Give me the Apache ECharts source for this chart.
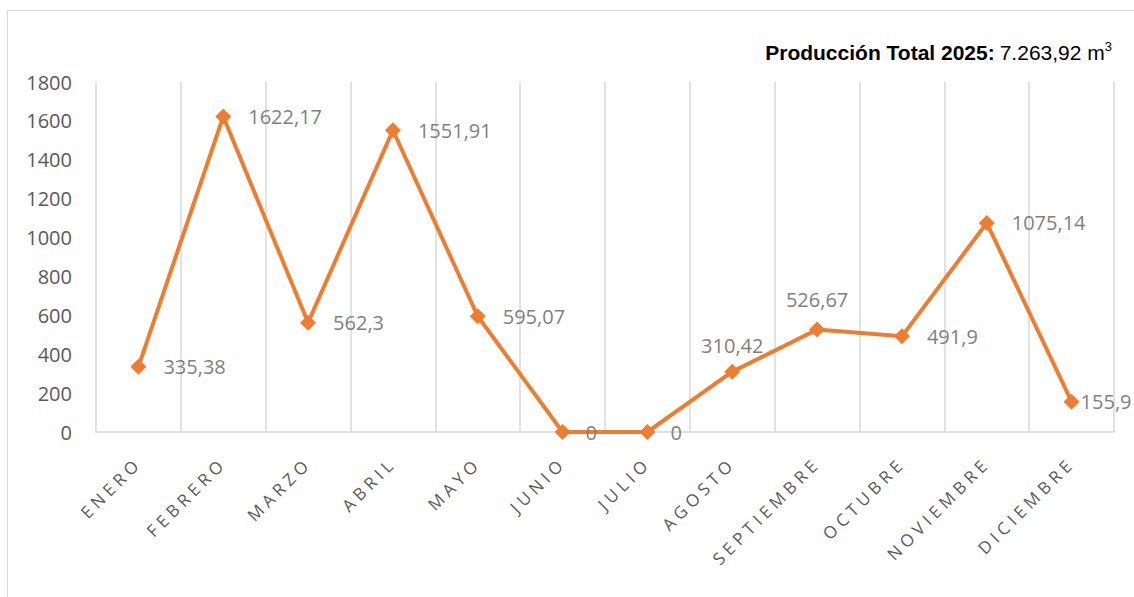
<!DOCTYPE html>
<html>
<head>
<meta charset="utf-8">
<script src="https://cdn.jsdelivr.net/npm/echarts@6/dist/echarts.min.js"></script>
<style>
  html, body { margin: 0; padding: 0; background: #fff; }
  #chart { width: 1134px; height: 597px; }
</style>
</head>
<body>
<div id="chart"></div>
<script>
// meses y producción (m3)
var months = ['ENERO', 'FEBRERO', 'MARZO', 'ABRIL', 'MAYO', 'JUNIO', 'JULIO',
              'AGOSTO', 'SEPTIEMBRE', 'OCTUBRE', 'NOVIEMBRE', 'DICIEMBRE'];
var production = [335.38, 1622.17, 562.3, 1551.91, 595.07, 0, 0,
                  310.42, 526.67, 491.9, 1075.14, 155.9];
var totalText = '7.263,92';

// etiquetas encima para agosto y septiembre, las demás a la derecha
var labelTop = { 7: 8, 8: 12 };
var labelRight = { 5: 15, 6: 15, 11: 1 };

var seriesData = [];
for (var i = 0; i < production.length; i++) {
    var item = { value: production[i] };
    if (labelTop[i] !== undefined) {
        item.label = { position: 'top', distance: labelTop[i] };
    } else if (labelRight[i] !== undefined) {
        item.label = { position: 'right', distance: labelRight[i] };
    }
    seriesData.push(item);
}

var chart = echarts.init(document.getElementById('chart'), null, { renderer: 'svg' });

var option = {
    backgroundColor: '#fff',
    animation: false,
    graphic: [{
        type: 'rect',
        shape: { x: 7.5, y: 10.5, width: 1140, height: 600 },
        style: { fill: 'none', stroke: '#d9d9d9', lineWidth: 1 },
        silent: true
    }],
    title: {
        right: 17,
        top: 35,
        text: '{b|Producción Total 2025:} {n|' + totalText + ' m}{s|3}',
        textStyle: {
            fontWeight: 'normal',
            rich: {
                b: { fontFamily: 'Liberation Sans', fontWeight: 'bold', fontSize: 21, color: '#000' },
                n: { fontFamily: 'Liberation Sans', fontWeight: 'normal', fontSize: 21, color: '#000' },
                s: { fontFamily: 'Liberation Sans', fontWeight: 'normal', fontSize: 13, color: '#000', verticalAlign: 'top', padding: [0, 0, 12, 0] }
            }
        }
    },
    grid: { left: 96, right: 20, top: 82, bottom: 165 },
    xAxis: {
        type: 'category',
        data: months,
        boundaryGap: true,
        axisLine: { show: true, lineStyle: { color: '#d9d9d9', width: 1.5 } },
        axisTick: { show: false },
        splitLine: { show: true, lineStyle: { color: '#d9d9d9', width: 1.5 } },
        axisLabel: {
            rotate: 45,
            margin: 28,
            interval: 0,
            fontFamily: 'Open Sans',
            fontSize: 17,
            color: '#595959'
        }
    },
    yAxis: {
        type: 'value',
        min: 0,
        max: 1800,
        interval: 200,
        axisLine: { show: false },
        axisTick: { show: false },
        splitLine: { show: false },
        axisLabel: {
            margin: 24,
            fontFamily: 'Open Sans',
            fontSize: 20,
            color: '#595959',
            formatter: function(v){ return String(v); }
        }
    },
    series: [{
        name: 'Producción',
        type: 'line',
        data: seriesData,
        symbol: 'diamond',
        symbolSize: 16,
        lineStyle: { color: '#ED7D31', width: 4 },
        itemStyle: { color: '#ED7D31' },
        label: {
            show: true,
            position: 'right',
            distance: 17,
            fontFamily: 'Open Sans',
            fontSize: 20,
            color: '#7f7f7f',
            formatter: function(p){
                return String(p.value).replace('.', ',');
            }
        }
    }]
};
chart.setOption(option);

// espaciado entre letras de los meses, como en el original
setTimeout(function(){
    var texts = document.querySelectorAll('#chart svg text');
    for (var k = 0; k < texts.length; k++) {
        if (months.indexOf(texts[k].textContent) > -1) {
            texts[k].setAttribute('letter-spacing', '4.5');
        }
    }
}, 50);
</script>
</body>
</html>
